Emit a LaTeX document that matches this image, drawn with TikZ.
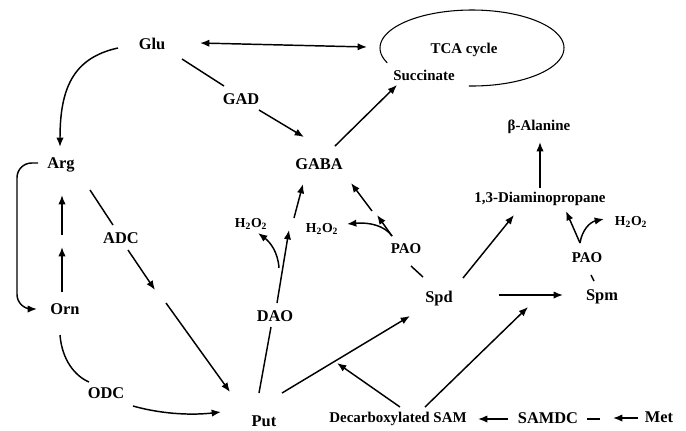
\documentclass[tikz,border=0pt]{standalone}
\usepackage{fontspec}
\setmainfont{Liberation Serif}
\usetikzlibrary{arrows.meta}
\begin{document}
\begin{tikzpicture}[x=0.75pt,y=-0.75pt,
  lbl/.style={font=\bfseries\fontsize{12.3}{14}\selectfont, inner sep=0pt, text height=8.1pt, text depth=0pt},
  sml/.style={font=\bfseries\fontsize{11.2}{13}\selectfont, inner sep=0pt, text height=7.4pt, text depth=0pt},
  hoo/.style={font=\bfseries\fontsize{10.3}{12}\selectfont, inner sep=0pt, text height=6.8pt, text depth=0pt},
  ln/.style={line width=1.1pt},
  arr/.style={ln, -{Latex[length=7pt,width=5.5pt]}},
  darr/.style={ln, {Latex[length=7pt,width=5.5pt]}-{Latex[length=7pt,width=5.5pt]}},
  ]
\useasboundingbox (0,0) rectangle (686,430);

% ---- nodes
\node[lbl] (glu) at (152,44) {Glu};
\node[sml] (tca) at (464,49) {TCA cycle};
\node[sml] (succ) at (424,76) {Succinate};
\node[lbl] (gad) at (241,99) {GAD};
\node[lbl] (gaba) at (319,164) {GABA};
\node[lbl] (arg) at (61,163) {Arg};
\node[sml] (bala) at (539,126) {β-Alanine};
\node[sml] (dap) at (540,198) {1,3-Diaminopropane};
\node[hoo] (h2a) at (251,223) {H\textsubscript{2}O\textsubscript{2}};
\node[hoo] (h2b) at (322,228) {H\textsubscript{2}O\textsubscript{2}};
\node[hoo] (h2c) at (631,221) {H\textsubscript{2}O\textsubscript{2}};
\node[lbl] (adc) at (121,238) {ADC};
\node[sml] (pao1) at (406,249) {PAO};
\node[sml] (pao2) at (587,258) {PAO};
\node[lbl] (spd) at (439,297) {Spd};
\node[lbl] (spm) at (602,295) {Spm};
\node[lbl] (orn) at (65,309) {Orn};
\node[lbl] (dao) at (275,316) {DAO};
\node[lbl] (odc) at (106,393) {ODC};
\node[lbl] (put) at (264,421) {Put};
\node[sml] (dsam) at (398,418) {Decarboxylated SAM};
\node[lbl] (samdc) at (548,418) {SAMDC};
\node[lbl] (met) at (659,417) {Met};

% ---- TCA cycle (open ellipse)
\draw[line width=0.8pt] plot[domain=157:452, samples=90, smooth] ({472+92*cos(\x)}, {48+38*sin(\x)});

% ---- connector end points
\coordinate (gluR) at (200,43);
\coordinate (tcaL) at (367,47);
\coordinate (gluB) at (182,59);
\coordinate (gadT) at (224,86);
\coordinate (gadB) at (259,110);
\coordinate (gabaT) at (304,137);
\coordinate (gabaR) at (335,146);
\coordinate (succB) at (397,85);
\coordinate (gluL) at (118,48);
\coordinate (argT) at (60,147);
\coordinate (argL) at (38,163);
\coordinate (ornL) at (37,309);
\coordinate (ornT) at (62,292);
\coordinate (mid1) at (62,247);
\coordinate (mid2) at (62,235);
\coordinate (argB) at (62,195);
\coordinate (argR) at (90,190);
\coordinate (adcT) at (113,225);
\coordinate (adcB) at (128,250);
\coordinate (mid3) at (155,290);
\coordinate (mid4) at (166,303);
\coordinate (putL) at (230,392);
\coordinate (ornB) at (60,335);
\coordinate (odcT) at (89,382);
\coordinate (odcR) at (133,406);
\coordinate (putW) at (221,412);
\coordinate (putT) at (259,393);
\coordinate (daoB) at (271,327);
\coordinate (daoT) at (277,303);
\coordinate (mid5) at (289,230);
\coordinate (mid6) at (294,218);
\coordinate (gabaB) at (303,184);
\coordinate (daoBr) at (279,268);
\coordinate (h2aB) at (258,233);
\coordinate (spdT) at (423,277);
\coordinate (pao1B) at (411,266);
\coordinate (pao1T) at (392,236);
\coordinate (mid7) at (377,215);
\coordinate (mid8) at (372,211);
\coordinate (gabaBR) at (351,183);
\coordinate (h2bR) at (347,224);
\coordinate (putR) at (282,393);
\coordinate (spdL) at (410,316);
\coordinate (dsamT1) at (400,407);
\coordinate (onPS) at (337,363);
\coordinate (dsamT2) at (425,407);
\coordinate (nearSpm) at (528,307);
\coordinate (spdR) at (499,295);
\coordinate (spmL) at (563,295);
\coordinate (spdTR) at (463,278);
\coordinate (dapB) at (514,215);
\coordinate (dapT) at (540,188);
\coordinate (balaB) at (540,142);
\coordinate (spmT) at (594,281);
\coordinate (pao2B) at (591,275);
\coordinate (pao2T) at (580,243);
\coordinate (dapBR) at (566,211);
\coordinate (h2cL) at (604,219);
\coordinate (samdcL) at (508,419);
\coordinate (dsamR) at (478,419);
\coordinate (samdcR) at (587,419);
\coordinate (dashR) at (600,419);
\coordinate (metL) at (638,418);
\coordinate (tipM) at (613,418);

% ---- connectors
\draw[darr] (gluR) -- (tcaL);
\draw[ln] (gluB) -- (gadT);
\draw[arr] (gadB) -- (gabaT);
\draw[arr] (gabaR) -- (succB);
\draw[arr] (gluL) .. controls (72,58) and (60,90) .. (argT);
\draw[arr, rounded corners=11pt] (argL) -| (17,236) |- (ornL);
\draw[arr] (ornT) -- (mid1);
\draw[arr] (mid2) -- (argB);
\draw[ln] (argR) -- (adcT);
\draw[arr] (adcB) -- (mid3);
\draw[arr] (mid4) -- (putL);
\draw[ln] (ornB) .. controls (62,360) and (75,376) .. (odcT);
\draw[arr] (odcR) .. controls (165,415) and (195,415) .. (putW);
\draw[ln] (putT) -- (daoB);
\draw[arr] (daoT) -- (mid5);
\draw[arr] (mid6) -- (gabaB);
\draw[arr] (daoBr) .. controls (278,252) and (270,242) .. (h2aB);
\draw[ln] (pao1B) -- (spdT);
\draw[arr] (pao1T) -- (mid7);
\draw[arr] (mid8) -- (gabaBR);
\draw[arr] (pao1T) .. controls (385,226) and (370,222) .. (h2bR);
\draw[arr] (putR) -- (spdL);
\draw[arr] (dsamT1) -- (onPS);
\draw[arr] (dsamT2) -- (nearSpm);
\draw[arr] (spdR) -- (spmL);
\draw[arr] (spdTR) -- (dapB);
\draw[arr] (dapT) -- (balaB);
\draw[ln] (pao2B) -- (spmT);
\draw[arr] (pao2T) -- (dapBR);
\draw[arr] (pao2T) .. controls (582,230) and (590,222) .. (h2cL);
\draw[arr] (samdcL) -- (dsamR);
\draw[ln] (samdcR) -- (dashR);
\draw[arr] (metL) -- (tipM);
\end{tikzpicture}
\end{document}
